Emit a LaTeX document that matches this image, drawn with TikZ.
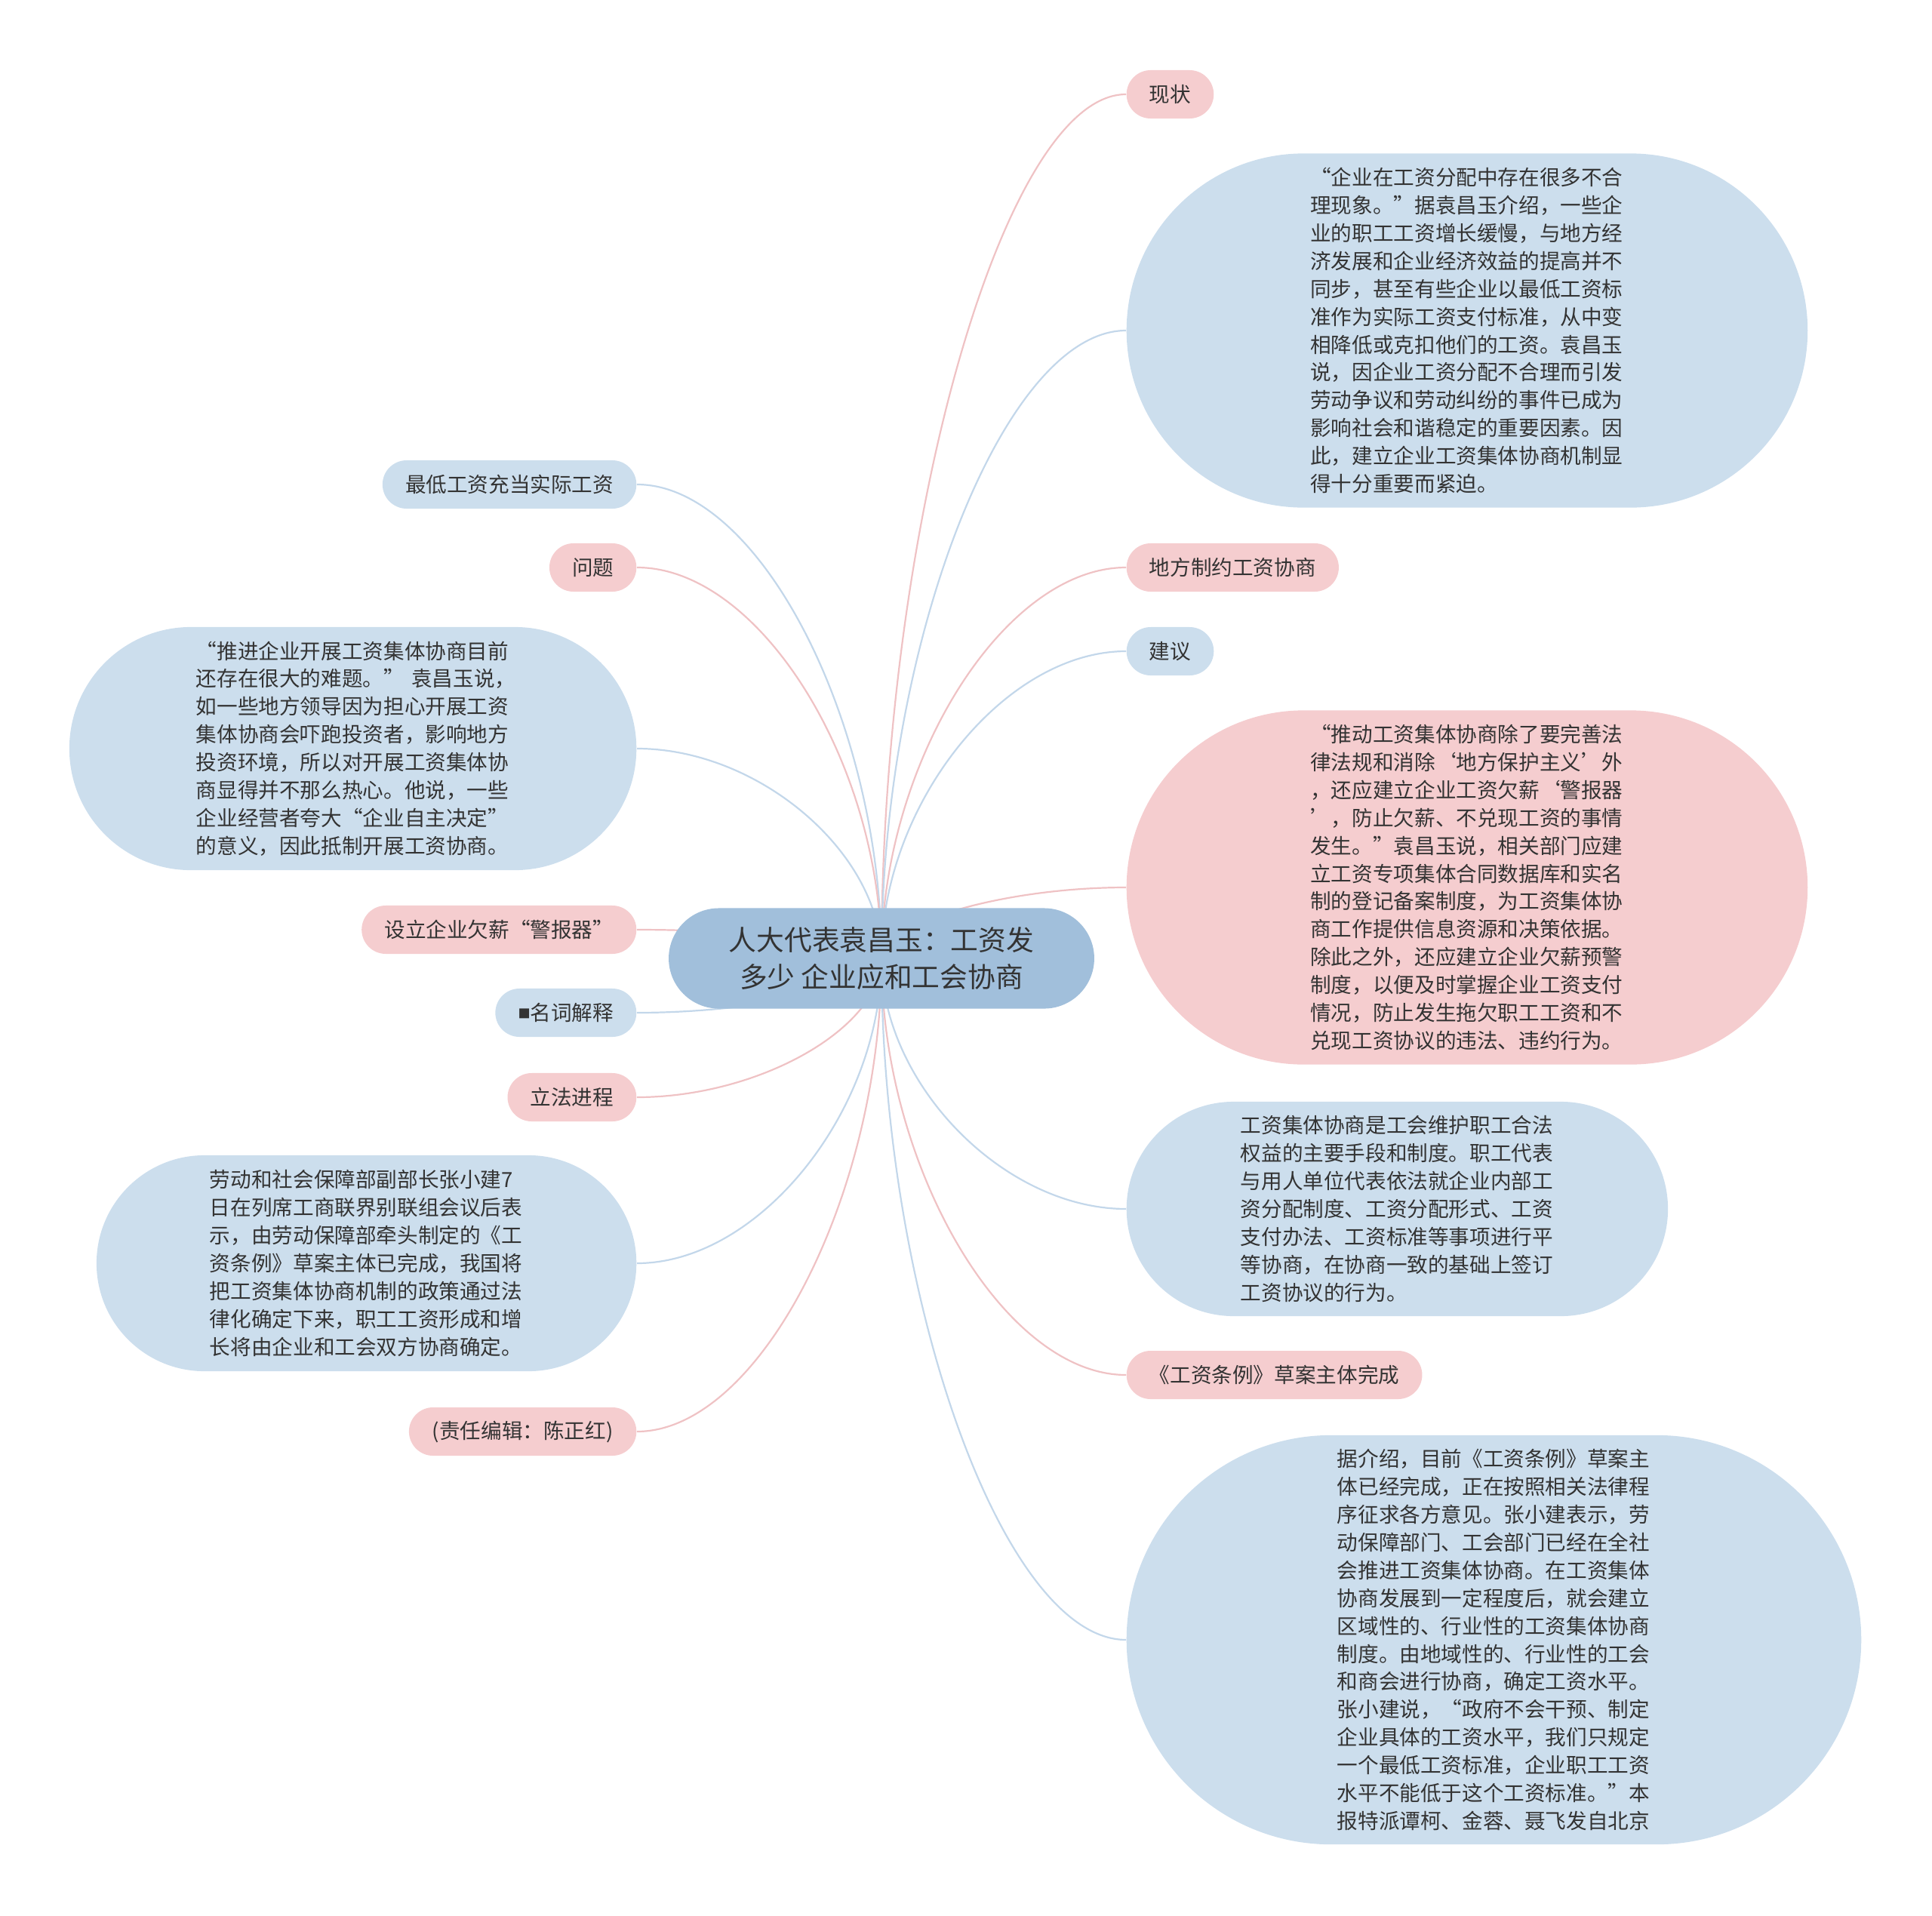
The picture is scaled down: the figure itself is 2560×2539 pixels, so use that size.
\documentclass[tikz,border=0pt]{standalone}
\usepackage{fontspec}
\setmainfont{Noto Sans CJK SC}
\usetikzlibrary{shapes.misc,calc,backgrounds}
\definecolor{pinkfill}{HTML}{F5CDCF}
\definecolor{bluefill}{HTML}{CCDEED}
\definecolor{rootfill}{HTML}{A1BFDB}
\definecolor{pinkline}{HTML}{EFC2C4}
\definecolor{blueline}{HTML}{C3D7EA}
\definecolor{inkgray}{HTML}{333333}
\newcommand{\openq}{\makebox[1em][r]{“}}
\begin{document}
\begin{tikzpicture}[x=0.01cm,y=-0.01cm,
  leaf/.style={rounded rectangle,inner xsep=0.275cm,inner ysep=0pt,minimum height=0.64cm,
    text=inkgray,font=\fontsize{7.85pt}{10.5pt}\selectfont},
  pinkleaf/.style={leaf,fill=pinkfill},
  blueleaf/.style={leaf,fill=bluefill},
  para/.style={align=left,text width=4.15cm,inner xsep=0pt},
  link/.style={line width=0.022cm}]
\useasboundingbox (0,0) rectangle (2560,2539);

% centre
\node[rounded rectangle,fill=rootfill,text=inkgray,align=center,minimum width=5.87cm,minimum height=1.33cm,
  font=\fontsize{10.45pt}{13.9pt}\selectfont] (root) at (1168,1270) {人大代表袁昌玉：工资发\\多少 企业应和工会协商};

% right side
\node[pinkleaf,anchor=west] (xz) at (1492,125) {现状};
\node[blueleaf,para,anchor=west,minimum width=9.02cm,minimum height=4.69cm] (b1) at (1492,438) {%
\openq 企业在工资分配中存在很多不合\\
理现象。”据袁昌玉介绍，一些企\\
业的职工工资增长缓慢，与地方经\\
济发展和企业经济效益的提高并不\\
同步，甚至有些企业以最低工资标\\
准作为实际工资支付标准，从中变\\
相降低或克扣他们的工资。袁昌玉\\
说，因企业工资分配不合理而引发\\
劳动争议和劳动纠纷的事件已成为\\
影响社会和谐稳定的重要因素。因\\
此，建立企业工资集体协商机制显\\
得十分重要而紧迫。};
\node[pinkleaf,anchor=west] (dfzy) at (1492,752) {地方制约工资协商};
\node[blueleaf,anchor=west] (jy) at (1492,863) {建议};
\node[pinkleaf,para,anchor=west,minimum width=9.02cm,minimum height=4.69cm] (b2) at (1492,1176) {%
\openq 推动工资集体协商除了要完善法\\
律法规和消除‘地方保护主义’外\\
，还应建立企业工资欠薪‘警报器\\
’，防止欠薪、不兑现工资的事情\\
发生。”袁昌玉说，相关部门应建\\
立工资专项集体合同数据库和实名\\
制的登记备案制度，为工资集体协\\
商工作提供信息资源和决策依据。\\
除此之外，还应建立企业欠薪预警\\
制度，以便及时掌握企业工资支付\\
情况，防止发生拖欠职工工资和不\\
兑现工资协议的违法、违约行为。};
\node[blueleaf,para,anchor=west,minimum width=7.17cm,minimum height=2.84cm] (b3) at (1492,1602) {%
工资集体协商是工会维护职工合法\\
权益的主要手段和制度。职工代表\\
与用人单位代表依法就企业内部工\\
资分配制度、工资分配形式、工资\\
支付办法、工资标准等事项进行平\\
等协商，在协商一致的基础上签订\\
工资协议的行为。};
\node[pinkleaf,anchor=west] (gz) at (1492,1822) {《工资条例》草案主体完成};
\node[blueleaf,para,anchor=west,minimum width=9.73cm,minimum height=5.42cm] (b6) at (1492,2173) {%
据介绍，目前《工资条例》草案主\\
体已经完成，正在按照相关法律程\\
序征求各方意见。张小建表示，劳\\
动保障部门、工会部门已经在全社\\
会推进工资集体协商。在工资集体\\
协商发展到一定程度后，就会建立\\
区域性的、行业性的工资集体协商\\
制度。由地域性的、行业性的工会\\
和商会进行协商，确定工资水平。\\
张小建说，“政府不会干预、制定\\
企业具体的工资水平，我们只规定\\
一个最低工资标准，企业职工工资\\
水平不能低于这个工资标准。”本\\
报特派谭柯、金蓉、聂飞发自北京};

% left side
\node[blueleaf,anchor=east] (zd) at (844,642) {最低工资充当实际工资};
\node[pinkleaf,anchor=east] (wt) at (844,752) {问题};
\node[blueleaf,para,anchor=east,minimum width=7.51cm,minimum height=3.22cm] (b4) at (844,992) {%
\openq 推进企业开展工资集体协商目前\\
还存在很大的难题。”~袁昌玉说，\\
如一些地方领导因为担心开展工资\\
集体协商会吓跑投资者，影响地方\\
投资环境，所以对开展工资集体协\\
商显得并不那么热心。他说，一些\\
企业经营者夸大“企业自主决定”\\
的意义，因此抵制开展工资协商。};
\node[pinkleaf,anchor=east] (jbq) at (844,1232) {设立企业欠薪“警报器”};
\node[blueleaf,anchor=east] (mc) at (844,1342) {\raisebox{0.1em}{\fontsize{4.6pt}{5pt}\selectfont ■}名词解释};
\node[pinkleaf,anchor=east] (lf) at (844,1454) {立法进程};
\node[blueleaf,para,anchor=east,minimum width=7.15cm,minimum height=2.86cm] (b5) at (844,1674) {%
劳动和社会保障部副部长张小建7\\
日在列席工商联界别联组会议后表\\
示，由劳动保障部牵头制定的《工\\
资条例》草案主体已完成，我国将\\
把工资集体协商机制的政策通过法\\
律化确定下来，职工工资形成和增\\
长将由企业和工会双方协商确定。};
\node[pinkleaf,anchor=east] (zr) at (844,1897) {(责任编辑：陈正红)};

% links
\begin{pgfonlayer}{background}
\foreach \n/\a/\c in {xz/west/pinkline,b1/west/blueline,dfzy/west/pinkline,jy/west/blueline,
    b2/west/pinkline,b3/west/blueline,gz/west/pinkline,b6/west/blueline,
    zd/east/blueline,wt/east/pinkline,b4/east/blueline,jbq/east/pinkline,
    mc/east/blueline,lf/east/pinkline,b5/east/blueline,zr/east/pinkline}
  \draw[link,draw=\c] (root.center) .. controls ($(root.center)!0.5!(root.center|-\n.\a)$)
    and ($(\n.\a)!0.5!(root.center|-\n.\a)$) .. (\n.\a);
\end{pgfonlayer}
\end{tikzpicture}
\end{document}
